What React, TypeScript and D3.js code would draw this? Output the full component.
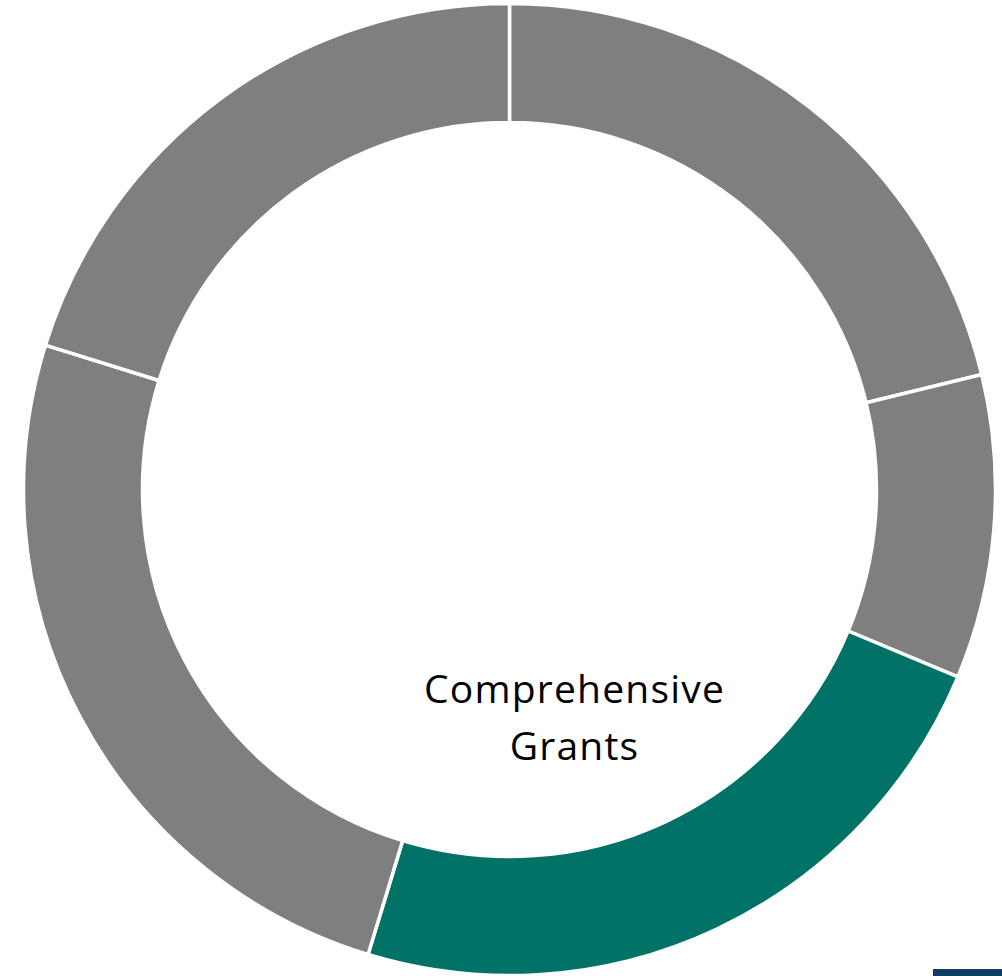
import React from 'react';
import * as d3 from 'd3';

// slice shares, clockwise from 12 o'clock
const categories = ['Slice A', 'Slice B', 'Comprehensive Grants', 'Slice D', 'Slice E'];
const shares = [21.2, 10.1, 23.4, 25.1, 20.2];
const highlighted = 'Comprehensive Grants';
const labelLines = ['Comprehensive', 'Grants'];

const WIDTH = 1002;
const HEIGHT = 976;

const App: React.FC = () => {
  const cx = 509.5;
  const cy = 489.5;
  const outer = 486;
  const inner = 367;

  const pie = d3
    .pie<number>()
    .sort(null)
    .value((d) => d);
  const arcs = pie(shares);

  const arc = d3
    .arc<d3.PieArcDatum<number>>()
    .innerRadius(inner)
    .outerRadius(outer);

  const color = (name: string) => (name === highlighted ? '#007266' : '#7f7f7f');

  return (
    <svg
      width={WIDTH}
      height={HEIGHT}
      style={{ position: 'absolute', left: 0, top: 0, display: 'block' }}
    >
      <rect width={WIDTH} height={HEIGHT} fill="#ffffff" />
      <g transform={`translate(${cx}, ${cy})`}>
        {arcs.map((a, i) => (
          <path
            key={categories[i]}
            d={arc(a) ?? ''}
            fill={color(categories[i])}
            stroke="#ffffff"
            strokeWidth={3.5}
            strokeLinejoin="miter"
          />
        ))}
        <text
          transform="translate(65, 0)"
          textAnchor="middle"
          fontFamily="'Open Sans', sans-serif"
          fontSize={39}
          letterSpacing={1.2}
          fill="#000000"
        >
          {labelLines.map((line, i) => (
            <tspan key={line} x={0} y={213 + i * 57}>
              {line}
            </tspan>
          ))}
        </text>
      </g>
      <rect x={933} y={969} width={69} height={7} fill="#123d66" />
    </svg>
  );
};

export default App;
